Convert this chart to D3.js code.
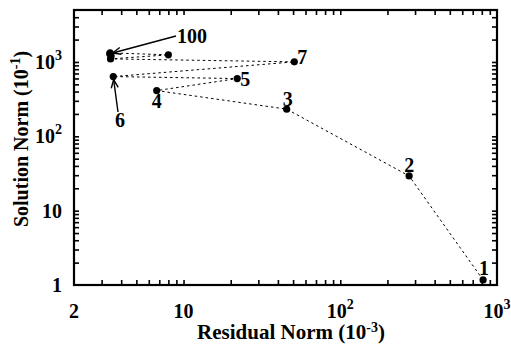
<!DOCTYPE html>
<html>
<head>
<meta charset="utf-8">
<script src="https://cdn.jsdelivr.net/npm/d3@7"></script>
<style>
  body { margin: 0; background: #fff; }
  text { font-family: "Liberation Serif", "Times New Roman", serif; font-weight: bold; fill: #000; }
</style>
</head>
<body>
<script>
var svgWidth = 511;
var svgHeight = 344;

var margin = { top: 10, right: 14, bottom: 59, left: 74 };

var chartWidth = svgWidth - margin.left - margin.right;
var chartHeight = svgHeight - margin.top - margin.bottom;

// DATA (iteration path, in display units)
var residNorm = [815, 275, 45.5, 6.74, 22.0, 3.56, 50.9, 3.42, 8.0, 3.40, 3.45, 3.38];
var solutionNorm = [1.17, 29.3, 232, 412, 598, 636, 1003, 1100, 1247, 1325, 1200, 1290];
var pointLabels = ["1", "2", "3", "4", "5", "6", "7", "", "", "", "", "100"];

var xMajorTicks = [2, 10, 100, 1000];
var xTickBase = ["2", "10", "10", "10"];
var xTickSup = ["", "", "2", "3"];
var yMajorTicks = [1, 10, 100, 1000];
var yTickBase = ["1", "10", "10", "10"];
var yTickSup = ["", "", "2", "3"];

var xMinorTicks = [3, 4, 5, 6, 7, 8, 9, 20, 30, 40, 50, 60, 70, 80, 90, 200, 300, 400, 500, 600, 700, 800, 900];
var yMinorTicks = [2, 3, 4, 5, 6, 7, 8, 9, 20, 30, 40, 50, 60, 70, 80, 90, 200, 300, 400, 500, 600, 700, 800, 900, 2000, 3000, 4000];

var svg = d3.select("body")
  .append("svg")
  .attr("width", svgWidth)
  .attr("height", svgHeight);

var chartGroup = svg.append("g")
  .attr("transform", `translate(${margin.left}, ${margin.top})`);

// SCALES
var xScale = d3.scaleLog().domain([2, 1000]).range([0, chartWidth]);
var yScale = d3.scaleLog().domain([1, 5000]).range([chartHeight, 0]);

// TICKS (inward, on all four sides)
var tickLen = 5;
var allX = xMajorTicks.concat(xMinorTicks).filter(v => v > 2 && v < 1000);
var allY = yMajorTicks.concat(yMinorTicks).filter(v => v > 1 && v < 5000);

function styleAxis(g) {
  g.select(".domain").remove();
  g.selectAll(".tick line").attr("stroke", "#000").attr("stroke-width", 1.6);
}

chartGroup.append("g")
  .attr("transform", `translate(0, ${chartHeight})`)
  .call(d3.axisBottom(xScale).tickValues(allX).tickSize(-tickLen).tickFormat(""))
  .call(styleAxis);
chartGroup.append("g")
  .call(d3.axisTop(xScale).tickValues(allX).tickSize(-tickLen).tickFormat(""))
  .call(styleAxis);
chartGroup.append("g")
  .call(d3.axisLeft(yScale).tickValues(allY).tickSize(-tickLen).tickFormat(""))
  .call(styleAxis);
chartGroup.append("g")
  .attr("transform", `translate(${chartWidth}, 0)`)
  .call(d3.axisRight(yScale).tickValues(allY).tickSize(-tickLen).tickFormat(""))
  .call(styleAxis);

// FRAME
chartGroup.append("rect")
  .attr("width", chartWidth)
  .attr("height", chartHeight)
  .attr("fill", "none")
  .attr("stroke", "#000")
  .attr("stroke-width", 2.2);

// TICK LABELS
var xLab = chartGroup.selectAll(".xlab")
  .data(xMajorTicks)
  .enter()
  .append("text")
  .attr("class", "xlab")
  .attr("x", d => xScale(d))
  .attr("y", chartHeight + 33)
  .attr("text-anchor", "middle")
  .style("font-size", "20px");
xLab.append("tspan").text((d, i) => xTickBase[i]);
xLab.append("tspan").attr("dy", -9).style("font-size", "14px").text((d, i) => xTickSup[i]);

var yLab = chartGroup.selectAll(".ylab")
  .data(yMajorTicks)
  .enter()
  .append("text")
  .attr("class", "ylab")
  .attr("x", -12)
  .attr("y", d => yScale(d) + 7)
  .attr("text-anchor", "end")
  .style("font-size", "20px");
yLab.append("tspan").text((d, i) => yTickBase[i]);
yLab.append("tspan").attr("dy", -9).style("font-size", "14px").text((d, i) => yTickSup[i]);

// AXIS TITLES
var xTitle = svg.append("text")
  .attr("x", 291)
  .attr("y", 339)
  .attr("text-anchor", "middle")
  .style("font-size", "21px");
xTitle.append("tspan").text("Residual Norm (10");
xTitle.append("tspan").attr("dy", -7).style("font-size", "14px").text("-3");
xTitle.append("tspan").attr("dy", 7).text(")");

var yTitle = svg.append("text")
  .attr("transform", "translate(28, 139) rotate(-90)")
  .attr("text-anchor", "middle")
  .style("font-size", "20px");
yTitle.append("tspan").text("Solution Norm (10");
yTitle.append("tspan").attr("dy", -8).style("font-size", "14px").text("-1");
yTitle.append("tspan").attr("dy", 8).text(")");

// PATH
var pts = residNorm.map((r, i) => ({ x: r, y: solutionNorm[i], label: pointLabels[i] }));

var line = d3.line()
  .x(d => xScale(d.x))
  .y(d => yScale(d.y));

chartGroup.append("path")
  .datum(pts)
  .attr("d", line)
  .attr("fill", "none")
  .attr("stroke", "#000")
  .attr("stroke-width", 1)
  .attr("stroke-dasharray", "2.5,3");

chartGroup.selectAll("circle")
  .data(pts)
  .enter()
  .append("circle")
  .attr("cx", d => xScale(d.x))
  .attr("cy", d => yScale(d.y))
  .attr("r", 3.6)
  .attr("fill", "#000");

// POINT LABELS (pixel offsets from each point)
var labelOffsets = {
  "1": [1, -5, "middle"],
  "2": [0, -4, "middle"],
  "3": [1, -3, "middle"],
  "4": [0, 17, "middle"],
  "5": [3, 7, "start"],
  "7": [3, 2, "start"]
};

chartGroup.selectAll(".plab")
  .data(pts.filter(d => labelOffsets[d.label]))
  .enter()
  .append("text")
  .attr("class", "plab")
  .attr("x", d => xScale(d.x) + labelOffsets[d.label][0])
  .attr("y", d => yScale(d.y) + labelOffsets[d.label][1])
  .attr("text-anchor", d => labelOffsets[d.label][2])
  .style("font-size", "20px")
  .text(d => d.label);

// ARROW CALLOUTS
function arrow(d, tx, ty, txt, lx, ly, anchor) {
  var px = xScale(d.x), py = yScale(d.y);
  var ang = Math.atan2(py - ty, px - tx);
  var ex = px - 3 * Math.cos(ang), ey = py - 3 * Math.sin(ang);
  chartGroup.append("line")
    .attr("x1", tx).attr("y1", ty)
    .attr("x2", ex).attr("y2", ey)
    .attr("stroke", "#000").attr("stroke-width", 1.4);
  var hl = 9, spread = 0.4;
  chartGroup.append("path")
    .attr("d", `M${ex - hl * Math.cos(ang - spread)},${ey - hl * Math.sin(ang - spread)}L${ex},${ey}L${ex - hl * Math.cos(ang + spread)},${ey - hl * Math.sin(ang + spread)}`)
    .attr("fill", "none")
    .attr("stroke", "#000")
    .attr("stroke-width", 1.4);
  chartGroup.append("text")
    .attr("x", lx).attr("y", ly)
    .attr("text-anchor", anchor)
    .style("font-size", "20px")
    .text(txt);
}

var p6 = pts[5];
var p100 = pts[pts.length - 1];
arrow(p6, 118 - margin.left, 112 - margin.top, "6", 120 - margin.left, 127 - margin.top, "middle");
arrow(p100, 176 - margin.left, 36 - margin.top, "100", 177 - margin.left, 43 - margin.top, "start");
</script>
</body>
</html>
